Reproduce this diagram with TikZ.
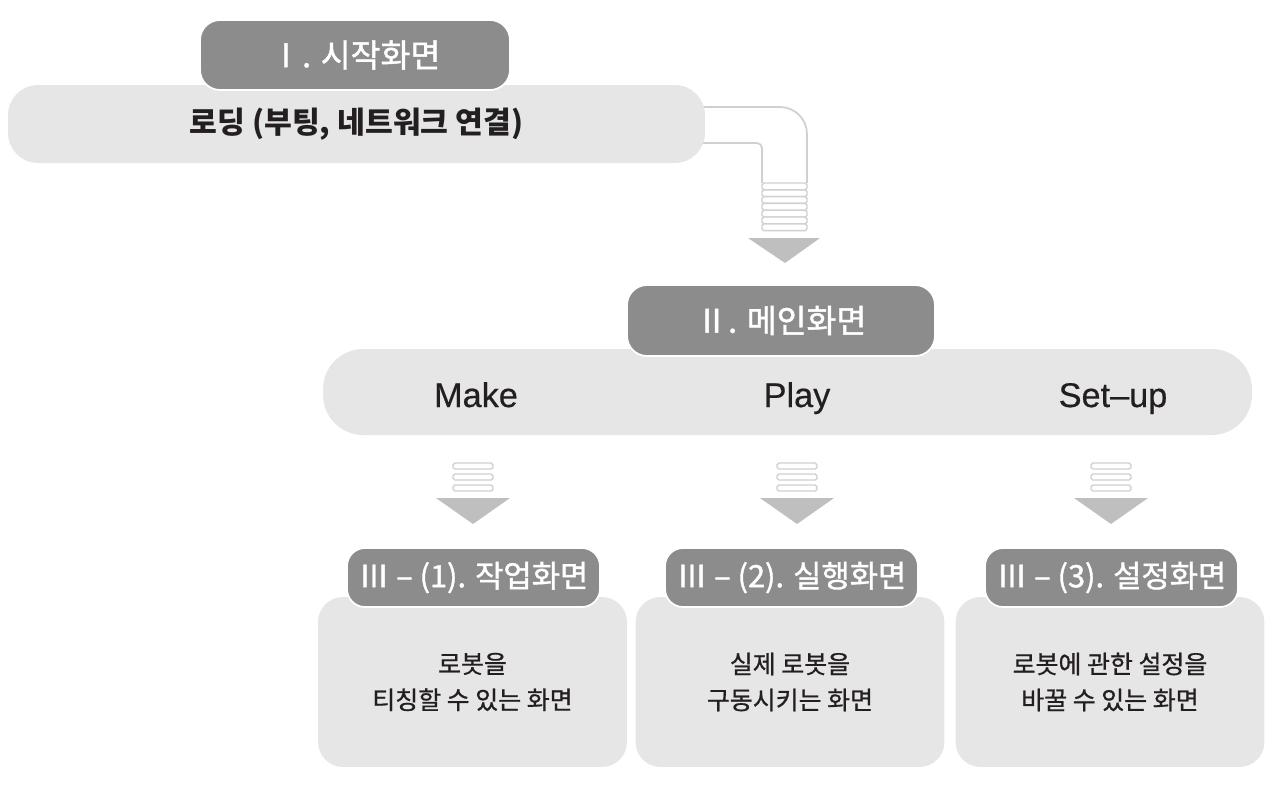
\documentclass[tikz,border=0pt]{standalone}
\usepackage{fontspec}
\setmainfont{Noto Sans CJK KR}
\newfontfamily\krmed[FakeBold=0.8]{Noto Sans CJK KR}
\newfontfamily\krpill[FakeBold=1.3]{Noto Sans CJK KR}
\newfontfamily\latin[FakeBold=0.5]{Liberation Sans}
\usepackage{xcolor}
\usepackage{tikz}

\definecolor{pillgray}{HTML}{8C8C8C}
\definecolor{bargray}{HTML}{E6E6E6}
\definecolor{pipegray}{HTML}{D0D0D0}
\definecolor{tipgray}{HTML}{BFBFBF}
\definecolor{ink}{HTML}{231F20}

\tikzset{
	pill/.style={fill=pillgray, draw=white, line width=1pt, rounded corners=0.4cm, inner sep=0, text=white},
	bar/.style={fill=bargray, inner sep=0, text=ink},
	card/.style={fill=bargray, rounded corners=0.5cm, inner sep=0, minimum width=6.18cm, minimum height=3.4cm, align=center, text=ink, font=\krmed\fontsize{14.2}{20.5}\selectfont},
	tab/.style={font=\latin\fontsize{19.5}{22}\selectfont, text=ink, anchor=base},
	rung/.style={draw=pipegray, fill=white, line width=0.8pt, rounded corners=1pt},
	tip/.style={fill=tipgray},
}

\begin{document}
\begin{tikzpicture}[x=0.02cm, y=-0.02cm]
\useasboundingbox (0,0) rectangle (1269,789);

% pipe I -> II
\draw[pipegray, line width=1pt, rounded corners=0.54cm] (650,107) -- (807,107) -- (807,183);
\draw[pipegray, line width=1pt, rounded corners=0.1cm] (650,143) -- (762,143) -- (762,183);
\foreach \i in {0,...,6}
	\draw[rung] (762,{183+\i*6.8}) rectangle (807,{183+(\i+1)*6.8});
\fill[tip] (748,238) -- (820,238) -- (785,263) -- cycle;

% I
\node[bar, rounded corners=0.6cm, minimum width=13.94cm, minimum height=1.56cm,
	font=\bfseries\fontsize{17.2}{22}\selectfont] (loading) at (356.5,124) {로딩 (부팅, 네트워크 연결)};
\node[pill, minimum width=6.2cm, minimum height=1.4cm,
	font=\krpill\fontsize{18.5}{22}\selectfont] (start) at (355,55) {Ⅰ. 시작화면};

% II
\node[bar, rounded corners=0.8cm, minimum width=18.58cm, minimum height=1.72cm] (mainbar) at (787.5,392) {};
\node[pill, minimum width=6.16cm, minimum height=1.42cm,
	font=\krpill\fontsize{18.5}{22}\selectfont] (main) at (781,320.5) {Ⅱ. 메인화면};
\node[tab] (make) at (476,407) {Make};
\node[tab] (play) at (797,407) {Play};
\node[tab] (setup) at (1113,407) {Set–up};

% small arrows
\foreach \x in {473,797,1111}{
	\foreach \y in {463,474,485}
		\draw[rung] (\x-20,\y) rectangle (\x+20,\y+6);
	\fill[tip] (\x-37,498) -- (\x+37,498) -- (\x,524) -- cycle;
}

% III
\node[card] (work) at (472.5,682) {로봇을\\티칭할 수 있는 화면};
\node[card] (run) at (790,682) {실제 로봇을\\구동시키는 화면};
\node[card] (config) at (1110,682) {로봇에 관한 설정을\\바꿀 수 있는 화면};

\node[pill, rounded corners=0.36cm, minimum width=5.06cm, minimum height=1.18cm,
	font=\krpill\fontsize{17.5}{20}\selectfont] (worktitle) at (473.5,577.5) {Ⅲ – (1). 작업화면};
\node[pill, rounded corners=0.36cm, minimum width=5.06cm, minimum height=1.18cm,
	font=\krpill\fontsize{17.5}{20}\selectfont] (runtitle) at (791.5,577.5) {Ⅲ – (2). 실행화면};
\node[pill, rounded corners=0.36cm, minimum width=5.06cm, minimum height=1.18cm,
	font=\krpill\fontsize{17.5}{20}\selectfont] (configtitle) at (1111.5,577.5) {Ⅲ – (3). 설정화면};

\end{tikzpicture}
\end{document}
